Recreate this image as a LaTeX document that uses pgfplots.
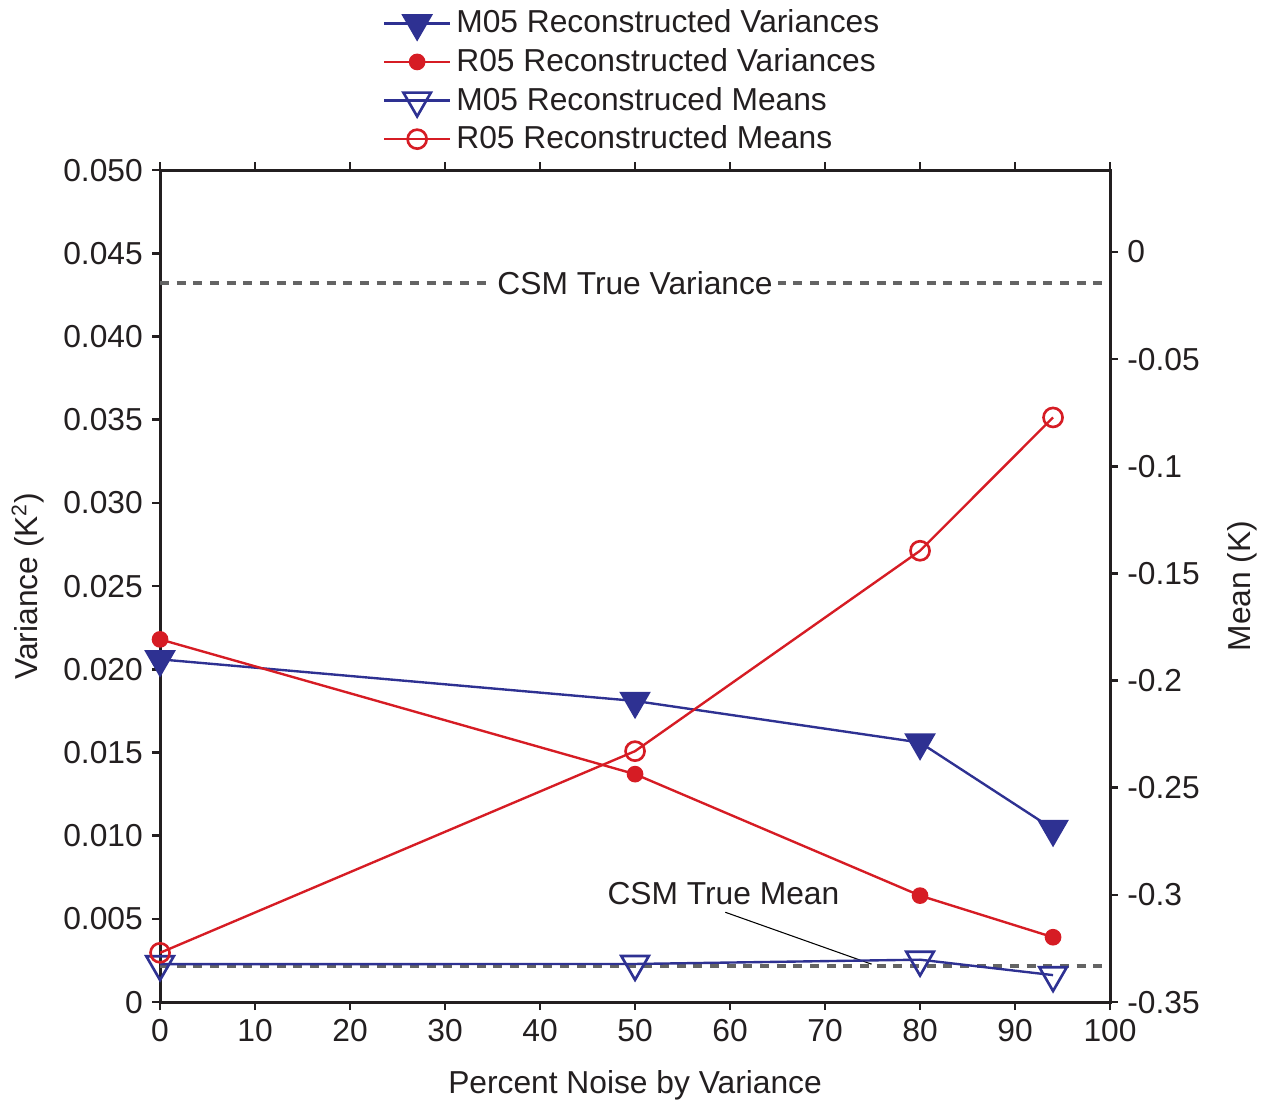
\documentclass[border=0pt]{standalone}
\usepackage{fontspec}
\setmainfont{Liberation Sans}
\usepackage{pgfplots}
\pgfplotsset{compat=1.18}

\definecolor{mblue}{RGB}{46,49,146}
\definecolor{rred}{RGB}{214,28,36}
\definecolor{txt}{RGB}{35,31,32}
\definecolor{dgray}{RGB}{100,100,100}

\pgfplotsset{
  common/.style={
    scale only axis, width=359.1pt, height=314.5pt,
    xmin=0, xmax=100,
    font=\fontsize{12}{14.4}\selectfont,
    /pgf/number format/assume math mode=true,
    tick align=outside,
    major tick length=3pt,
    axis line style={line width=1.1pt, txt},
    tick style={line width=1pt, txt},
    every tick label/.append style={txt},
    label style={txt},
    legend image code/.code={
      \draw[mark repeat=2,mark phase=2] plot coordinates {(0cm,0cm) (0.435cm,0cm) (0.87cm,0cm)};
    },
  },
  truedash/.style={dgray, line width=1.5pt, dash pattern=on 3.4pt off 2.9pt, forget plot},
}

\begin{document}
\begin{tikzpicture}
\begin{axis}[common, name=ax,
  ymin=0, ymax=0.05,
  xtick={0,10,20,30,40,50,60,70,80,90,100},
  ytick={0,0.005,0.010,0.015,0.020,0.025,0.030,0.035,0.040,0.045,0.050},
  yticklabels={0,0.005,0.010,0.015,0.020,0.025,0.030,0.035,0.040,0.045,0.050},
  scaled y ticks=false,
  xtick pos=both, ytick pos=left,
  xlabel={Percent Noise by Variance},
  ylabel={Variance (K\textsuperscript{2})},
  xlabel style={at={(rel axis cs:0.5,-0.1)}, anchor=center},
  ylabel style={at={(rel axis cs:-0.139,0.5)}, anchor=center},
  legend style={at={(rel axis cs:0.226,1.206)}, anchor=north west, draw=none, fill=none,
    font=\fontsize{12}{14.4}\selectfont, row sep=0.4pt, text=txt},
  legend cell align=left,
]
% CSM true values
\addplot[truedash] coordinates {(0,0.0432) (100,0.0432)};
\addplot[truedash] coordinates {(0,0.00218) (100,0.00218)};
\addplot[black, line width=0.4pt, forget plot] coordinates {(59.5,0.0054) (74.9,0.00228)};
\node[fill=white, inner sep=2pt, text=txt] at (axis cs:50,0.0432) {CSM True Variance};
\node[text=txt] at (axis cs:59.3,0.00655) {CSM True Mean};

\addplot[mblue, line width=0.9pt, mark=triangle*, mark size=6pt,
  mark options={rotate=180, solid, fill=mblue}]
  coordinates {(0,0.0206) (50,0.0181) (80,0.0156) (94,0.0104)};
\addlegendentry{M05 Reconstructed Variances}
\addplot[rred, line width=0.9pt, mark=*, mark size=2.7pt, mark options={fill=rred}]
  coordinates {(0,0.0218) (50,0.0137) (80,0.0064) (94,0.0039)};
\addlegendentry{R05 Reconstructed Variances}
\addlegendimage{mblue, line width=0.9pt, mark=triangle, mark size=6pt, mark options={rotate=180, line width=1pt}}
\addlegendentry{M05 Reconstruced Means}
\addlegendimage{rred, line width=0.9pt, mark=o, mark size=3.6pt, mark options={line width=1pt}}
\addlegendentry{R05 Reconstructed Means}
\end{axis}

\begin{axis}[common,
  axis x line=none, axis y line*=right,
  ymin=-0.35, ymax=0.0382,
  ytick={-0.35,-0.3,-0.25,-0.2,-0.15,-0.1,-0.05,0},
  yticklabels={-0.35,-0.3,-0.25,-0.2,-0.15,-0.1,-0.05,0},
  ylabel={Mean (K)},
  ylabel style={at={(rel axis cs:1.139,0.5)}, anchor=center, rotate=0},
]
\addplot[mblue, line width=0.9pt, mark=triangle, mark size=6pt,
  mark options={rotate=180, solid, line width=1pt}]
  coordinates {(0,-0.3323) (50,-0.3322) (80,-0.3302) (94,-0.3374)};
\addplot[rred, line width=0.9pt, mark=o, mark size=3.6pt, mark options={line width=1pt}]
  coordinates {(0,-0.3270) (50,-0.2329) (80,-0.1394) (94,-0.0772)};
\end{axis}

\pgfresetboundingbox
\path ([xshift=-60.5pt,yshift=-37.4pt]ax.south west) rectangle ([xshift=417.3pt,yshift=378.8pt]ax.south west);
\end{tikzpicture}
\end{document}
